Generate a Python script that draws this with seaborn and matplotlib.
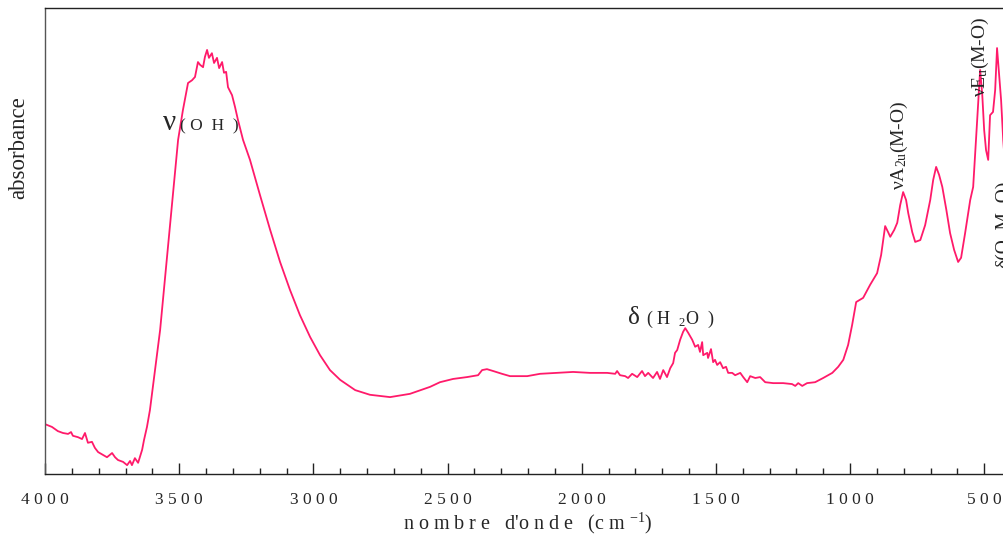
import numpy as np
import pandas as pd
import matplotlib
matplotlib.use("Agg")
import matplotlib.pyplot as plt
import seaborn as sns
from matplotlib.ticker import FixedLocator, FixedFormatter, MultipleLocator

# ---- data ----
wavenumber = [4000, 3974, 3952, 3933, 3914, 3903, 3896, 3877, 3862, 3851, 3840, 3825,
              3814, 3802, 3784, 3769, 3750, 3739, 3728, 3709, 3694, 3683, 3676, 3665,
              3653, 3638, 3631, 3620, 3609, 3571, 3534, 3504, 3486, 3467, 3452, 3441,
              3430, 3422, 3411, 3404, 3396, 3389, 3378, 3370, 3359, 3351, 3340, 3333,
              3325, 3318, 3303, 3292, 3281, 3262, 3236, 3199, 3161, 3124, 3087, 3050,
              3012, 2975, 2938, 2900, 2844, 2789, 2714, 2640, 2565, 2528, 2479, 2427,
              2386, 2371, 2353, 2330, 2297, 2267, 2203, 2155, 2092, 2032, 1969, 1905,
              1875, 1868, 1857, 1838, 1827, 1812, 1793, 1775, 1764, 1752, 1734, 1719,
              1708, 1696, 1682, 1670, 1659, 1652, 1644, 1633, 1622, 1614, 1603, 1588,
              1577, 1566, 1559, 1551, 1547, 1532, 1529, 1518, 1510, 1503, 1495, 1484,
              1473, 1462, 1454, 1439, 1428, 1409, 1398, 1383, 1372, 1353, 1335, 1316,
              1286, 1249, 1216, 1204, 1193, 1178, 1160, 1130, 1100, 1066, 1044, 1025,
              1007, 992, 977, 951, 925, 899, 884, 869, 858, 850, 835, 824,
              813, 802, 791, 783, 768, 757, 738, 720, 701, 690, 679, 668,
              656, 641, 627, 612, 597, 586, 571, 552, 541, 534, 526, 515,
              507, 500, 493, 485, 478, 467, 459, 452, 444, 437, 429, 418]
absorbance = [0.107, 0.101, 0.092, 0.088, 0.086, 0.090, 0.082, 0.079, 0.075, 0.088, 0.067, 0.069,
              0.056, 0.047, 0.041, 0.036, 0.045, 0.036, 0.030, 0.026, 0.019, 0.028, 0.019, 0.034,
              0.024, 0.052, 0.073, 0.101, 0.137, 0.309, 0.534, 0.717, 0.781, 0.839, 0.845, 0.852,
              0.884, 0.878, 0.873, 0.895, 0.910, 0.893, 0.903, 0.882, 0.893, 0.871, 0.884, 0.861,
              0.863, 0.830, 0.813, 0.788, 0.760, 0.717, 0.674, 0.599, 0.524, 0.455, 0.395, 0.341,
              0.294, 0.255, 0.223, 0.202, 0.180, 0.170, 0.165, 0.172, 0.187, 0.197, 0.204, 0.208,
              0.212, 0.223, 0.225, 0.221, 0.215, 0.210, 0.210, 0.215, 0.217, 0.219, 0.217, 0.217,
              0.215, 0.221, 0.212, 0.210, 0.206, 0.215, 0.208, 0.221, 0.210, 0.217, 0.206, 0.219,
              0.204, 0.223, 0.208, 0.227, 0.238, 0.260, 0.266, 0.288, 0.305, 0.313, 0.303, 0.288,
              0.273, 0.277, 0.262, 0.283, 0.255, 0.260, 0.249, 0.268, 0.240, 0.245, 0.234, 0.240,
              0.227, 0.230, 0.217, 0.217, 0.212, 0.217, 0.208, 0.197, 0.210, 0.206, 0.208, 0.197,
              0.195, 0.195, 0.193, 0.189, 0.195, 0.189, 0.195, 0.197, 0.206, 0.217, 0.230, 0.245,
              0.277, 0.320, 0.369, 0.378, 0.406, 0.431, 0.470, 0.532, 0.519, 0.509, 0.524, 0.539,
              0.577, 0.605, 0.588, 0.560, 0.519, 0.498, 0.502, 0.534, 0.588, 0.631, 0.659, 0.642,
              0.616, 0.567, 0.517, 0.481, 0.455, 0.464, 0.517, 0.588, 0.616, 0.685, 0.760, 0.867,
              0.813, 0.738, 0.695, 0.674, 0.770, 0.777, 0.824, 0.914, 0.856, 0.803, 0.717, 0.631]

major_ticks = [4000, 3500, 3000, 2500, 2000, 1500, 1000, 500]
tick_labels = ["4 0 0 0", "3 5 0 0", "3 0 0 0", "2 5 0 0", "2 0 0 0", "1 5 0 0", "1 0 0 0", "5 0 0"]

df = pd.DataFrame({"wavenumber": wavenumber, "absorbance": absorbance})

sns.set_style("white")
plt.rcParams["font.family"] = ["Liberation Serif", "DejaVu Serif"]
plt.rcParams["mathtext.fontset"] = "custom"
plt.rcParams["mathtext.rm"] = "Liberation Serif"
plt.rcParams["mathtext.it"] = "Liberation Serif:italic"
plt.rcParams["mathtext.bf"] = "Liberation Serif:bold"

fig = plt.figure(figsize=(10.04, 5.38), dpi=100)
ax = fig.add_axes([45 / 1004, (538 - 474) / 538, 966 / 1004, 466 / 538])

sns.lineplot(data=df, x="wavenumber", y="absorbance", sort=False, estimator=None,
             color="#ff1a6a", linewidth=1.3, ax=ax)

ax.set_xlim(4000, 400)
ax.set_ylim(0, 1)

for side in ["left", "top", "bottom", "right"]:
    ax.spines[side].set_color("#222222")
    ax.spines[side].set_linewidth(1.0)
ax.spines["left"].set_color("#555555")

ax.xaxis.set_major_locator(FixedLocator(major_ticks))
ax.xaxis.set_major_formatter(FixedFormatter(tick_labels))
ax.xaxis.set_minor_locator(MultipleLocator(100))
ax.tick_params(axis="x", which="major", direction="in", length=8, width=1.0,
               color="#222222", labelsize=12.5, pad=13, bottom=True, top=False)
ax.tick_params(axis="x", which="minor", direction="in", length=4, width=1.0,
               color="#222222", bottom=True, top=False)
ax.set_yticks([])

ax.set_xlabel("n o m b r e   d'o n d e   (c m $^{-1}$)", fontsize=14.5)
ax.xaxis.set_label_coords(0.50, -0.078)
ax.set_ylabel("absorbance", fontsize=16.5)
ax.yaxis.set_label_coords(-0.0165, 0.70)

# annotations
ax.text(3560, 0.738, "ν", fontsize=21, ha="left", va="baseline")
ax.text(3497, 0.738, "( O  H  )", fontsize=12.5, ha="left", va="baseline")
ax.text(1827, 0.322, "δ", fontsize=18, ha="left", va="baseline")
ax.text(1762, 0.322, "( H  $_{2}$O  )", fontsize=13, ha="left", va="baseline")
ax.text(798, 0.609, r"νA$_{\mathrm{2u}}$(M-O)", fontsize=14, rotation=90, rotation_mode="anchor",
        ha="left", va="baseline")
ax.text(496, 0.809, r"νE$_{\mathrm{u}}$(M-O)", fontsize=14, rotation=90, rotation_mode="anchor",
        ha="left", va="baseline")
ax.text(410, 0.442, "δ(O–M–O)", fontsize=14, rotation=90, rotation_mode="anchor",
        ha="left", va="baseline", clip_on=False)

fig.savefig("out.png", dpi=100)
